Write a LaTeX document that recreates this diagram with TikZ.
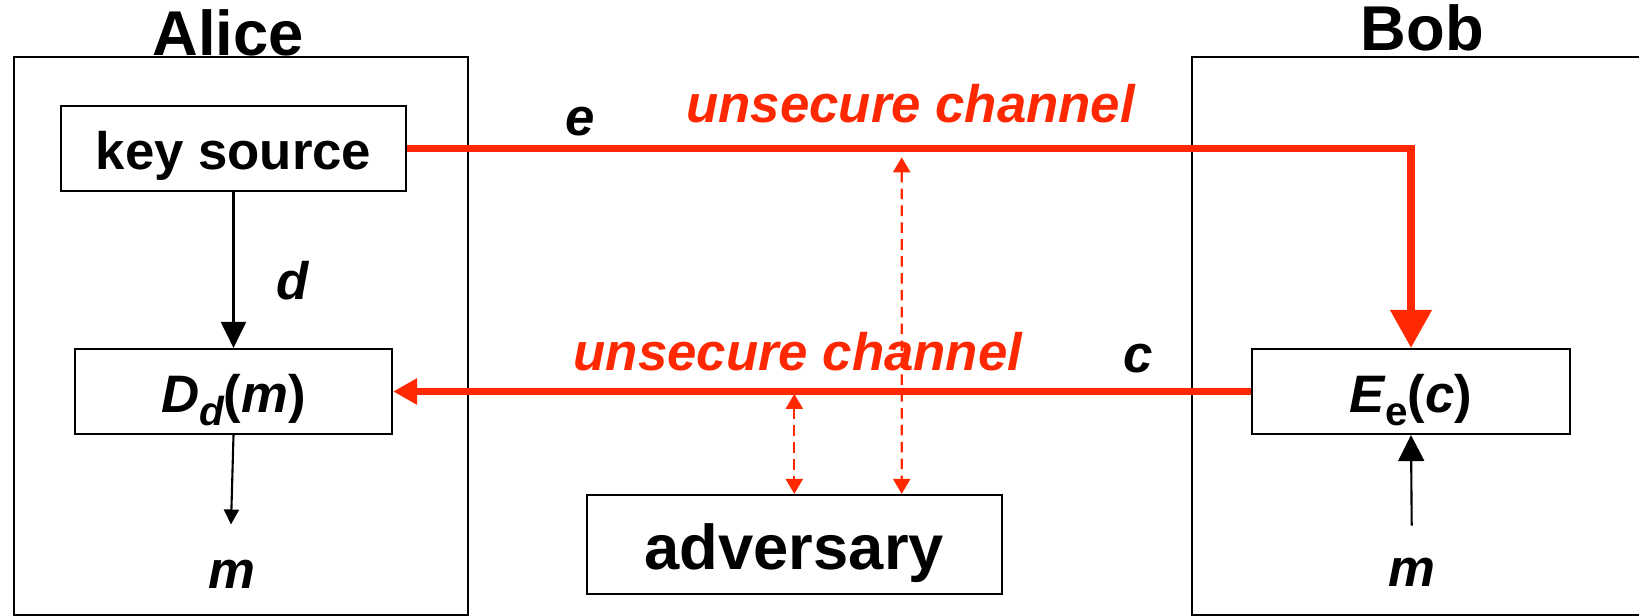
\documentclass[tikz,border=0pt]{standalone}
\usepackage{fontspec}
\setmainfont{Liberation Sans}
\usetikzlibrary{arrows.meta}
\definecolor{chred}{RGB}{255,40,0}
\newcommand{\lowsub}[1]{\raisebox{-3.7pt}{\fontsize{11.5}{12}\selectfont #1}}
\newcommand{\upp}[1]{{\upshape #1}}
\begin{document}
\begin{tikzpicture}[x=0.01cm,y=-0.01cm,
  frame/.style={draw=black, line width=0.55pt, inner sep=0pt, minimum height=5.58cm},
  box/.style={draw=black, line width=0.6pt, inner sep=0pt, text height=12pt, text depth=0pt,
    font=\fontsize{15}{18}\selectfont\bfseries},
  title/.style={inner sep=0pt, anchor=base, font=\fontsize{18}{21}\selectfont\bfseries},
  lab/.style={inner sep=0pt, anchor=base, font=\fontsize{15}{18}\selectfont\bfseries\itshape},
  blk/.style={draw=black, line width=0.6pt},
  redline/.style={draw=chred, line width=2.1pt},
  dashline/.style={draw=chred, line width=0.65pt, dash pattern=on 3pt off 1.8pt}
]
\useasboundingbox (0,0) rectangle (1639,616);
% party frames
\node[frame, minimum width=4.54cm] (alice) at (241,336) {};
\node[frame, minimum width=5.0cm] (bob) at (1442,336) {};
\node[title] (alicet) at (228,55.5) {Alice};
\node[title] (bobt) at (1422.5,50.3) {Bob};
% boxes
\node[box, minimum width=3.45cm, minimum height=0.85cm] (key) at (233.5,148.5) {key source};
\node[box, minimum width=3.17cm, minimum height=0.85cm, font=\fontsize{15}{18}\selectfont\bfseries\itshape] (dbox) at (233.5,391.5) {D\lowsub{d}\upp{(}m\upp{)}};
\node[box, minimum width=3.18cm, minimum height=0.85cm, font=\fontsize{15}{18}\selectfont\bfseries\itshape] (ebox) at (1411,391.5) {E\lowsub{\upshape e}\upp{(}c\upp{)}};
\node[box, minimum width=4.15cm, minimum height=0.99cm, text height=14.1pt, font=\fontsize{18}{21}\selectfont\bfseries] (adv) at (794.3,544.5) {adversary};
% labels
\node[lab] (dlab) at (293,300) {d};
\node[lab] (mleft) at (232,589) {m};
\node[lab] (mright) at (1412,587) {m};
\node[lab] (elab) at (580,135.5) {e};
\node[lab] (clab) at (1138,373) {c};
\node[lab, text=chred] (uc1) at (910.6,123) {unsecure channel};
\node[lab, text=chred] (uc2) at (798,371) {unsecure channel};
% black arrows
\draw[blk, -{Triangle[width=0.25cm,length=0.26cm]}] (key.south) -- (dbox.north);
\coordinate (mA) at (231,524.5);
\draw[blk, -{Triangle[width=0.15cm,length=0.15cm]}] (dbox.south) -- (mA);
\coordinate (mB) at (1411.7,525.7);
\draw[blk, -{Triangle[width=0.26cm,length=0.26cm]}] (mB) -- (ebox.south);
% red channels
\draw[redline, -{Triangle[width=0.40cm,length=0.38cm]}] (key.east) -- (ebox.north |- key.east) -- (ebox.north);
\draw[redline, -{Triangle[width=0.25cm,length=0.24cm]}] (ebox.west) -- (dbox.east);
% adversary taps
\path (adv.north) ++(0,-100) coordinate (t1);
\path (adv.north) ++(107.4,0) coordinate (a2);
\coordinate (t2) at (901.7,157.3);
\draw[dashline, {Triangle[width=0.17cm,length=0.15cm]}-{Triangle[width=0.17cm,length=0.15cm]}] (t1) -- (adv.north);
\draw[dashline, {Triangle[width=0.17cm,length=0.15cm]}-{Triangle[width=0.17cm,length=0.15cm]}] (t2) -- (a2);
\end{tikzpicture}
\end{document}
